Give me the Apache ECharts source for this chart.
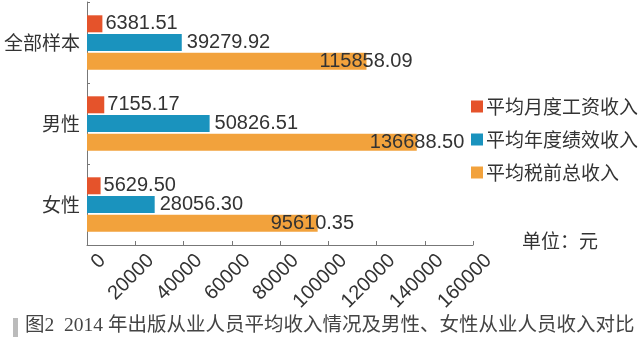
<!DOCTYPE html>
<html>
<head>
<meta charset="utf-8">
<script src="https://cdn.jsdelivr.net/npm/echarts@6/dist/echarts.min.js"></script>
<style>html,body{margin:0;padding:0;background:#fff}#c{width:640px;height:341px}</style>
</head>
<body>
<div id="c"></div>
<script>
var categories = ['全部样本', '男性', '女性'];
var seriesNames = ['平均月度工资收入', '平均年度绩效收入', '平均税前总收入'];
var monthly = [6381.51, 7155.17, 5629.50];
var performance = [39279.92, 50826.51, 28056.30];
var total = [115858.09, 136688.50, 95610.35];
var xTicks = [0, 20000, 40000, 60000, 80000, 100000, 120000, 140000, 160000];
var unitText = '单位：元';
var captionText = '图2  2014 年出版从业人员平均收入情况及男性、女性从业人员收入对比';

var colors = ['#E5532B', '#1A93BE', '#F2A23C'];
var numFont = "'Liberation Sans', Arial, sans-serif";
var cjkFont = "'Noto Sans CJK SC', sans-serif";

var chart = echarts.init(document.getElementById('c'));
function lbl(offset) {
  return {
    show: true, position: 'right', distance: 3, offset: offset,
    color: '#333', fontSize: 20, fontFamily: numFont,
    formatter: function (p) { return p.value.toFixed(2); }
  };
}
chart.setOption({
  animation: false,
  color: colors,
  grid: { left: 87, top: 2, width: 386, bottom: 96 },
  xAxis: {
    type: 'value', min: xTicks[0], max: xTicks[xTicks.length - 1], interval: xTicks[1] - xTicks[0],
    axisLine: { show: true, lineStyle: { color: '#777', width: 1 } },
    axisTick: { show: true, inside: true, length: 4, lineStyle: { color: '#777' } },
    splitLine: { show: false },
    axisLabel: {
      rotate: 45, margin: 14, verticalAlign: 'top', padding: [0, -12, 0, 0],
      color: '#333', fontSize: 20, fontFamily: numFont,
      formatter: function (v) { return String(v); }
    }
  },
  yAxis: {
    type: 'category', data: categories, inverse: true,
    axisLine: { show: true, lineStyle: { color: '#777', width: 1 } },
    axisTick: { show: true, inside: true, length: 3, lineStyle: { color: '#777' } },
    axisLabel: { color: '#333', fontSize: 19, fontFamily: cjkFont, margin: 7 }
  },
  legend: {
    orient: 'vertical', left: 466, top: 92, itemWidth: 12, itemHeight: 12, itemGap: 14,
    icon: 'rect',
    textStyle: { color: '#333', fontSize: 19, fontFamily: cjkFont, padding: [0, 0, 0, -2] },
    data: seriesNames
  },
  series: [
    { name: seriesNames[0], type: 'bar', data: monthly, barWidth: 17, barGap: '10%', label: lbl([0, 0]) },
    { name: seriesNames[1], type: 'bar', data: performance, barWidth: 17, barGap: '10%', label: lbl([2, 0]) },
    { name: seriesNames[2], type: 'bar', data: total, barWidth: 17, barGap: '10%', label: lbl([-50, 0]) }
  ],
  graphic: [
    { type: 'text', left: 522, top: 231, style: { text: unitText, fill: '#333', font: '19px ' + cjkFont } },
    { type: 'rect', left: 13, top: 318, shape: { width: 5, height: 19 }, style: { fill: '#bbb' } },
    { type: 'text', left: 25, top: 316, style: { text: captionText, fill: '#444', font: "19.5px 'Liberation Serif', 'Noto Sans CJK SC', serif" } }
  ]
});
</script>
</body>
</html>
